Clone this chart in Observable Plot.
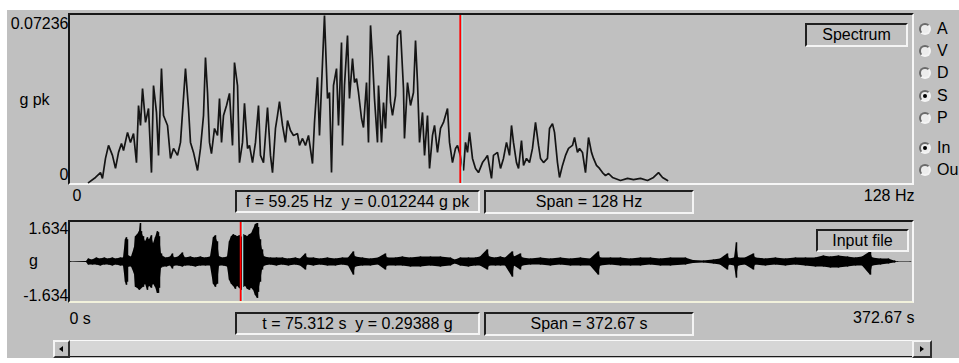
<!DOCTYPE html>
<html><head><meta charset="utf-8">
<script src="https://cdn.jsdelivr.net/npm/d3@7"></script>
<script src="https://cdn.jsdelivr.net/npm/@observablehq/plot@0.6"></script>
<style>
html,body{margin:0;padding:0;background:#fff;width:959px;height:363px;overflow:hidden;font-family:"Liberation Sans",Arial,sans-serif;font-size:16px;color:#000}
.abs{position:absolute}
#panel{position:absolute;left:7px;top:10px;width:952px;height:348px;background:#c0c0c0}
.frame{position:absolute;box-sizing:border-box;border-style:solid;border-width:2px;border-color:#181818 #f6f6f6 #f6f6f6 #181818}
.sunk{position:absolute;box-sizing:border-box;border-style:solid;border-width:2px;border-color:#202020 #f4f4f4 #f4f4f4 #202020;text-align:center;white-space:pre;background:#c0c0c0}
.chart{position:absolute;left:0}
.radio{position:absolute;box-sizing:border-box;width:12px;height:12px;border-radius:50%;border:2px solid;border-color:#6a6a6a #f4f4f4 #f4f4f4 #6a6a6a;background:#ececec}
.dot{position:absolute;left:2px;top:2px;width:4px;height:4px;border-radius:50%;background:#000}
.rlabel{position:absolute;white-space:nowrap;line-height:18px}
.btn{position:absolute;box-sizing:border-box;border:2px solid;border-color:#f4f4f4 #303030 #303030 #f4f4f4;background:#c0c0c0}
</style></head>
<body>
<div id="panel"></div>
<div class="frame" style="left:68px;top:13px;width:846px;height:172px"></div>
<div class="frame" style="left:68px;top:220px;width:846px;height:83px;border-bottom-color:#f2f2dc"></div>
<div id="spec" class="chart" style="top:0"></div>
<div id="wave" class="chart" style="top:210px"></div>
<div id="ui"></div>
<script>
// ---------- data ----------
const specSpan = 128;          // Hz
const specMax = 0.07236;       // g pk
const specCursor = 59.25;      // Hz
const specYLabels = ["0.07236", "0"];
const specUnit = "g pk";
const specXLabels = ["0", "128 Hz"];
const specFreq = [
 2.74,3.80,4.56,4.86,5.32,5.78,6.38,6.84,7.30,7.75,
 8.06,8.67,9.12,9.58,10.03,10.34,10.64,10.95,11.40,11.86,
 12.31,12.62,13.07,13.38,13.83,14.14,14.75,15.20,15.66,16.27,
 16.72,17.48,17.94,18.24,18.70,19.31,19.76,20.22,20.52,20.83,
 21.13,21.43,21.89,22.35,22.65,22.96,23.26,23.72,24.17,24.63,
 24.93,25.39,25.69,26.15,26.45,26.91,27.21,27.67,28.12,28.58,
 28.88,29.34,29.64,29.95,30.40,30.71,31.16,31.47,31.77,32.23,
 32.68,32.99,33.44,33.90,34.51,34.81,35.27,35.72,36.18,36.79,
 37.09,37.55,37.85,38.31,38.61,39.07,39.37,39.68,39.98,40.44,
 40.74,41.20,41.35,41.65,42.11,42.41,42.87,43.17,43.48,43.78,
 44.24,44.54,45.00,45.30,45.61,45.91,46.21,46.67,46.82,47.28,
 47.58,47.89,48.34,48.65,48.95,49.41,49.71,50.17,50.62,50.77,
 51.23,51.69,52.14,52.45,52.75,53.06,53.51,53.82,54.27,54.58,
 55.03,55.34,55.79,56.25,56.70,57.31,57.62,58.07,58.53,58.83,
 59.25,59.74,60.05,60.35,60.66,61.11,61.57,62.02,62.63,63.09,
 63.39,64.00,64.30,64.91,65.37,65.82,66.28,66.74,67.04,67.34,
 67.80,68.11,68.56,68.87,69.32,69.78,70.23,70.69,71.15,71.45,
 71.91,72.51,72.82,73.27,73.58,74.03,74.34,74.79,75.25,75.71,
 76.31,76.62,77.07,77.38,77.83,78.29,78.75,79.20,79.51,79.96,
 80.42,80.87,81.33,81.79,82.39,83.61,84.68,85.59,86.65,87.72,
 88.63,89.39,90.00,90.76
];
const specAmp = [
 0.0004,0.0026,0.0047,0.0022,0.0108,0.0164,0.0121,0.0065,0.0134,0.0172,
 0.0142,0.0220,0.0177,0.0215,0.0090,0.0336,0.0250,0.0409,0.0263,0.0323,
 0.0047,0.0422,0.0306,0.0121,0.0495,0.0293,0.0250,0.0108,0.0151,0.0121,
 0.0177,0.0495,0.0323,0.0177,0.0134,0.0056,0.0151,0.0293,0.0543,0.0392,
 0.0177,0.0129,0.0237,0.0207,0.0366,0.0177,0.0293,0.0336,0.0388,0.0164,
 0.0521,0.0422,0.0090,0.0177,0.0345,0.0151,0.0164,0.0090,0.0177,0.0336,
 0.0121,0.0090,0.0207,0.0327,0.0121,0.0047,0.0237,0.0293,0.0353,0.0250,
 0.0177,0.0271,0.0228,0.0207,0.0215,0.0164,0.0194,0.0164,0.0207,0.0086,
 0.0263,0.0457,0.0207,0.0521,0.0723,0.0366,0.0392,0.0047,0.0422,0.0495,
 0.0250,0.0607,0.0164,0.0422,0.0637,0.0366,0.0538,0.0435,0.0452,0.0392,
 0.0280,0.0241,0.0435,0.0177,0.0681,0.0538,0.0366,0.0177,0.0422,0.0177,
 0.0349,0.0237,0.0551,0.0349,0.0293,0.0379,0.0637,0.0659,0.0409,0.0194,
 0.0435,0.0336,0.0392,0.0616,0.0435,0.0177,0.0306,0.0121,0.0293,0.0065,
 0.0207,0.0250,0.0134,0.0237,0.0263,0.0323,0.0177,0.0090,0.0151,0.0164,
 0.0122,0.0056,0.0177,0.0134,0.0220,0.0108,0.0065,0.0047,0.0090,0.0108,
 0.0121,0.0022,0.0121,0.0134,0.0065,0.0108,0.0177,0.0121,0.0250,0.0177,
 0.0090,0.0065,0.0185,0.0078,0.0108,0.0090,0.0151,0.0263,0.0164,0.0108,
 0.0090,0.0108,0.0237,0.0258,0.0220,0.0090,0.0026,0.0078,0.0121,0.0151,
 0.0164,0.0198,0.0134,0.0151,0.0134,0.0047,0.0198,0.0134,0.0108,0.0078,
 0.0065,0.0047,0.0034,0.0043,0.0026,0.0013,0.0022,0.0017,0.0022,0.0013,
 0.0026,0.0047,0.0026,0.0013
];

const waveSpan = 372.67;       // s
const waveMax = 1.634;         // g
const waveCursor = 75.312;     // s
const waveYLabels = ["1.634", "-1.634"];
const waveUnit = "g";
const waveXLabels = ["0 s", "372.67 s"];
const waveT = [
 0,7.08,7.97,9.74,11.51,13.28,15.05,16.82,18.59,20.36,
 22.13,23.46,24.34,24.79,25.23,25.67,27.00,28.33,28.77,29.65,
 30.54,30.98,31.42,32.31,33.20,34.08,34.97,35.85,36.74,37.62,
 38.51,38.95,39.39,40.28,41.16,42.49,44.26,45.15,46.03,47.80,
 49.57,50.90,53.11,55.33,57.54,59.75,61.96,63.29,64.18,65.06,
 65.95,67.72,69.49,70.37,71.26,72.14,73.03,73.91,74.80,75.68,
 76.57,77.46,78.34,79.23,80.11,81.00,81.88,82.77,83.21,84.09,
 84.98,85.86,88.52,91.18,93.83,96.49,99.59,101.80,104.01,104.90,
 107.55,110.65,113.75,117.29,120.39,123.04,125.26,126.14,129.24,132.78,
 136.32,139.42,140.30,143.85,146.94,150.48,154.91,159.34,163.76,168.19,
 170.40,172.62,176.15,179.25,181.46,184.56,185.45,188.11,190.32,192.53,
 195.63,196.51,199.17,200.06,203.60,208.02,212.45,216.87,221.30,225.73,
 230.15,233.69,234.58,239.00,243.43,247.86,252.28,256.71,261.13,265.56,
 272.20,275.74,280.17,284.59,287.69,290.79,291.67,293.89,294.77,295.66,
 298.76,302.30,303.18,307.61,312.03,316.46,320.89,325.31,329.74,333.28,
 336.38,339.92,343.90,347.44,350.54,354.08,354.97,358.51,362.05,364.70,
 366.03,371.79
];
const waveHi = [
 .013,.021,.126,.084,.168,.126,.168,.126,.168,.126,
 .168,.168,.922,1.006,.922,.251,.21,.587,1.048,1.131,
 1.257,1.592,1.257,1.048,.838,1.006,.922,1.089,.754,1.006,
 1.257,1.215,1.048,.335,.21,.168,.21,.335,.168,.21,
 .377,.168,.21,.168,.21,.168,.21,1.006,1.089,.838,
 .21,.168,.21,.838,1.048,1.131,1.089,1.048,1.089,1.006,
 1.131,1.089,1.048,1.131,1.173,1.341,1.55,1.592,1.425,.922,
 .503,.21,.168,.168,.168,.126,.168,.126,.335,.168,
 .168,.126,.168,.126,.168,.168,.419,.21,.168,.126,
 .168,.335,.168,.168,.21,.168,.21,.21,.21,.168,
 .084,.168,.168,.168,.21,.503,.21,.168,.21,.168,
 .419,.21,.335,.168,.126,.168,.126,.168,.126,.168,
 .126,.419,.168,.168,.168,.126,.168,.168,.126,.168,
 .168,.063,.042,.084,.126,.335,.126,.168,.796,.168,
 .168,.335,.168,.126,.168,.126,.168,.168,.168,.251,
 .21,.251,.21,.168,.21,.419,.168,.126,.126,.042,
 .013,.013
];
const waveLo = [
 -.013,-.021,-.126,-.126,-.126,-.168,-.126,-.126,-.168,-.126,
 -.168,-.168,-.838,-.964,-.838,-.21,-.21,-.503,-1.048,-1.089,
 -1.173,-1.131,-1.089,-1.048,-.922,-1.173,-1.006,-1.089,-.922,-1.048,
 -1.299,-1.299,-1.089,-.251,-.21,-.21,-.168,-.293,-.168,-.168,
 -.21,-.168,-.168,-.21,-.168,-.168,-.168,-.922,-1.048,-.922,
 -.168,-.168,-.21,-.754,-.922,-1.006,-1.131,-1.006,-1.089,-1.173,
 -1.048,-1.006,-1.131,-1.173,-1.089,-1.173,-1.383,-1.508,-1.257,-.838,
 -.335,-.168,-.126,-.168,-.126,-.168,-.126,-.168,-.335,-.126,
 -.168,-.126,-.168,-.168,-.126,-.168,-.545,-.21,-.168,-.168,
 -.126,-.335,-.168,-.168,-.168,-.21,-.21,-.168,-.21,-.168,
 -.084,-.168,-.21,-.168,-.168,-.335,-.168,-.168,-.168,-.168,
 -.629,-.168,-.335,-.168,-.126,-.126,-.168,-.126,-.168,-.168,
 -.168,-.545,-.168,-.126,-.168,-.168,-.168,-.126,-.168,-.168,
 -.126,-.063,-.042,-.084,-.126,-.335,-.126,-.168,-.670,-.168,
 -.126,-.335,-.126,-.168,-.126,-.168,-.126,-.168,-.21,-.21,
 -.251,-.251,-.21,-.168,-.168,-.545,-.168,-.126,-.084,-.042,
 -.013,-.013
];

const readouts = [
  {text: "f = 59.25 Hz  y = 0.012244 g pk", left: 235, top: 190, w: 245, h: 23},
  {text: "Span = 128 Hz", left: 484, top: 190, w: 210, h: 24},
  {text: "t = 75.312 s  y = 0.29388 g", left: 235, top: 312, w: 245, h: 23},
  {text: "Span = 372.67 s", left: 484, top: 312, w: 210, h: 24},
  {text: "Spectrum", left: 805, top: 23, w: 103, h: 24},
  {text: "Input file", left: 816, top: 229, w: 93, h: 23}
];
const radioLabels = ["A", "V", "D", "S", "P", "In", "Ou"];
const radioY = [29, 51, 73, 96, 118, 148, 170];
const radioChecked = ["S", "In"];

// ---------- charts ----------
const FONT = "Liberation Sans, Arial, sans-serif";
const spectrum = specFreq.map((f, i) => ({f, a: specAmp[i]}));
const wave = waveT.map((t, i) => ({t, hi: waveHi[i], lo: waveLo[i]}));

const specPlot = Plot.plot({
  width: 959, height: 215,
  marginLeft: 70, marginRight: 47, marginTop: 15, marginBottom: 32,
  x: {domain: [0, specSpan], axis: null},
  y: {domain: [0, specMax], axis: null},
  style: {background: "transparent", fontFamily: FONT, fontSize: "16px", color: "#000", overflow: "visible"},
  marks: [
    Plot.line(spectrum, {x: "f", y: "a", stroke: "#141414", strokeWidth: 1.7, strokeLinejoin: "miter"}),
    Plot.ruleX([specCursor], {stroke: "#a6eeee", strokeWidth: 1.2, dx: 2}),
    Plot.ruleX([specCursor], {stroke: "#ff0000", strokeWidth: 1.8}),
    Plot.text([specMax], {y: d => d, text: () => specYLabels[0], frameAnchor: "left", textAnchor: "end", dx: -2, dy: 8, fontSize: 16, fill: "#000"}),
    Plot.text([0], {y: d => d, text: () => specYLabels[1], frameAnchor: "left", textAnchor: "end", dx: -2, dy: -9, fontSize: 16, fill: "#000"}),
    Plot.text([specMax / 2], {y: d => d, text: () => specUnit, frameAnchor: "left", textAnchor: "middle", dx: -36, fontSize: 16, fill: "#000"}),
    Plot.text([0], {x: d => d, text: () => specXLabels[0], frameAnchor: "bottom", textAnchor: "start", dx: 2, dy: 17, fontSize: 16, fill: "#000"}),
    Plot.text([specSpan], {x: d => d, text: () => specXLabels[1], frameAnchor: "bottom", textAnchor: "end", dx: 2, dy: 17, fontSize: 16, fill: "#000"})
  ]
});
document.getElementById("spec").appendChild(specPlot);

const wavePlot = Plot.plot({
  width: 959, height: 130,
  marginLeft: 70, marginRight: 47, marginTop: 12, marginBottom: 39,
  x: {domain: [0, waveSpan], axis: null},
  y: {domain: [-waveMax, waveMax], axis: null},
  style: {background: "transparent", fontFamily: FONT, fontSize: "16px", color: "#000", overflow: "visible"},
  marks: [
    Plot.areaY(wave, {x: "t", y1: "lo", y2: "hi", fill: "#000"}),
    Plot.ruleX(wave, {x: "t", y1: "lo", y2: "hi", stroke: "#000", strokeWidth: 1.5}),
    Plot.ruleX([waveCursor], {stroke: "#a6eeee", strokeWidth: 1.2, dx: 2}),
    Plot.ruleX([waveCursor], {stroke: "#ff0000", strokeWidth: 1.8}),
    Plot.text([waveMax], {y: d => d, text: () => waveYLabels[0], frameAnchor: "left", textAnchor: "end", dx: -2, dy: 6, fontSize: 16, fill: "#000"}),
    Plot.text([-waveMax], {y: d => d, text: () => waveYLabels[1], frameAnchor: "left", textAnchor: "end", dx: -2, dy: -6, fontSize: 16, fill: "#000"}),
    Plot.text([0], {y: d => d, text: () => waveUnit, frameAnchor: "left", textAnchor: "middle", dx: -37, dy: -1, fontSize: 16, fill: "#000"}),
    Plot.text([0], {x: d => d, text: () => waveXLabels[0], frameAnchor: "bottom", textAnchor: "start", dx: -1, dy: 22, fontSize: 16, fill: "#000"}),
    Plot.text([waveSpan], {x: d => d, text: () => waveXLabels[1], frameAnchor: "bottom", textAnchor: "end", dx: 2, dy: 21, fontSize: 16, fill: "#000"})
  ]
});
document.getElementById("wave").appendChild(wavePlot);

// ---------- window controls ----------
const ui = d3.select("#ui");
readouts.forEach(r => {
  ui.append("div").attr("class", "sunk")
    .style("left", r.left + "px").style("top", r.top + "px")
    .style("width", r.w + "px").style("height", r.h + "px")
    .style("line-height", (r.h - 4) + "px")
    .text(r.text);
});
radioLabels.forEach((lab, i) => {
  const c = ui.append("div").attr("class", "radio")
    .style("left", "919px").style("top", (radioY[i] - 6) + "px");
  if (radioChecked.includes(lab)) c.append("div").attr("class", "dot");
  ui.append("div").attr("class", "rlabel")
    .style("left", "937px").style("top", (radioY[i] - 9) + "px").text(lab);
});
// scrollbar
ui.append("div").attr("class", "abs")
  .style("left", "70px").style("top", "340px").style("width", "842px").style("height", "17px")
  .style("box-sizing", "border-box").style("background", "#d6d6d6")
  .style("border-top", "1px solid #fafafa").style("border-bottom", "1px solid #1a1a1a");
ui.append("div").attr("class", "btn").style("left", "53px").style("top", "340px").style("width", "17px").style("height", "18px")
  .append("div").attr("class", "abs").style("left", "4px").style("top", "4px")
  .style("width", "0").style("height", "0").style("border-top", "3px solid transparent")
  .style("border-bottom", "3px solid transparent").style("border-right", "4px solid #000");
ui.append("div").attr("class", "btn").style("left", "912px").style("top", "340px").style("width", "20px").style("height", "18px")
  .append("div").attr("class", "abs").style("left", "6px").style("top", "4px")
  .style("width", "0").style("height", "0").style("border-top", "3px solid transparent")
  .style("border-bottom", "3px solid transparent").style("border-left", "4px solid #000");
</script>
</body></html>
